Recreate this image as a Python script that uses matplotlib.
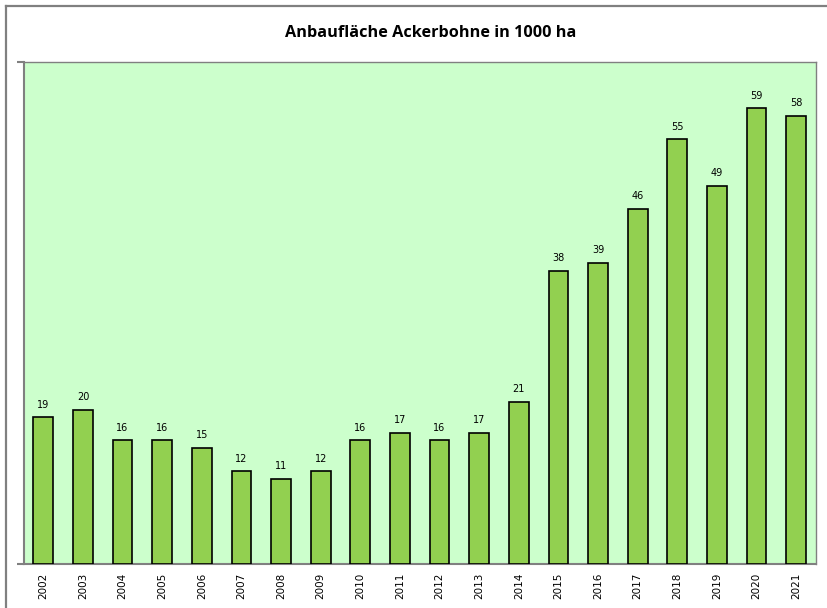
import matplotlib
matplotlib.use("Agg")
import matplotlib.pyplot as plt
from matplotlib.lines import Line2D

years = [str(y) for y in range(2002, 2022)]
area_kha = [19, 20, 16, 16, 15, 12, 11, 12, 16, 17, 16, 17, 21, 38, 39, 46, 55, 49, 59, 58]
title = "Anbaufläche Ackerbohne in 1000 ha"

W, H = 827, 608
fig = plt.figure(figsize=(W / 100, H / 100), dpi=100)
fig.patch.set_facecolor("white")

# frame of the chart area (left and top edges visible)
fig.add_artist(Line2D([5.5 / W, 5.5 / W], [0, 1 - 5.5 / H], transform=fig.transFigure,
                      color="#808080", lw=1.6))
fig.add_artist(Line2D([5.5 / W, 1], [1 - 5.5 / H, 1 - 5.5 / H], transform=fig.transFigure,
                      color="#808080", lw=1.6))

left, right, bottom, top = 23.5, 816, 564, 62
ax = fig.add_axes([left / W, (H - bottom) / H, (right - left) / W, (bottom - top) / H])
ax.set_facecolor("#CCFFCC")

x = range(len(years))
bars = ax.bar(x, area_kha, width=0.5, color="#92D050", edgecolor="black", linewidth=1.2, zorder=3)
for xi, v in zip(x, area_kha):
    ax.text(xi, v + 1.0, str(v), ha="center", va="bottom", fontsize=7, family="DejaVu Sans", zorder=4)

ax.set_xlim(-0.5, len(years) - 0.5)
ax.set_ylim(0, 65)
ax.set_xticks(list(x))
ax.set_xticklabels(years, rotation=90, fontsize=7.5, family="DejaVu Sans")
ax.tick_params(axis="x", length=0, pad=6)
ax.set_yticks([0, 65])
ax.set_yticklabels([])
ax.tick_params(axis="y", length=5, color="#808080", width=1.5)

for side in ["left", "bottom", "right", "top"]:
    ax.spines[side].set_color("#808080")
    ax.spines[side].set_linewidth(1.5)
ax.spines["top"].set_linewidth(1.0)
ax.spines["right"].set_linewidth(1.0)

fig.text(431 / W, 1 - 33 / H, title, ha="center", va="center", fontsize=11.7,
         fontweight="bold", family="Open Sans")

fig.savefig("out.png", dpi=100)
